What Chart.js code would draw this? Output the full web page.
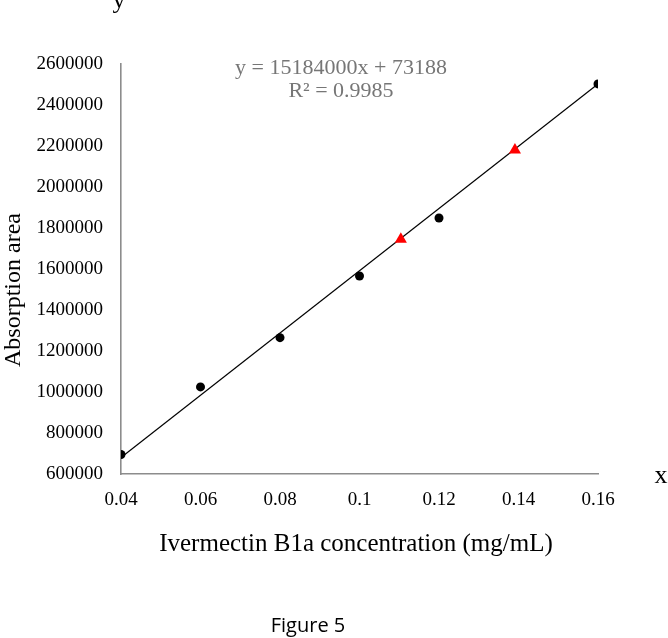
<!DOCTYPE html>
<html>
<head>
<meta charset="utf-8">
<script src="https://cdn.jsdelivr.net/npm/chart.js@4.4.1/dist/chart.umd.min.js"></script>
<style>
  html, body { margin: 0; padding: 0; background: #ffffff; }
  #wrap { width: 668px; height: 638px; }
</style>
</head>
<body>
<div id="wrap"><canvas id="c" width="668" height="638"></canvas></div>
<script>
// ---- data ----
const standardX = [0.04, 0.06, 0.08, 0.10, 0.12, 0.16];
const standardY = [695000, 1025000, 1265000, 1566000, 1849000, 2503000];
const sampleX = [0.1104, 0.1391];
const sampleY = [1745000, 2180000];
const trendX = [0.04, 0.16];
const trendY = [680548, 2502628];
const xTicks = [0.04, 0.06, 0.08, 0.1, 0.12, 0.14, 0.16];
const xTickLabels = ['0.04', '0.06', '0.08', '0.1', '0.12', '0.14', '0.16'];
const yTicks = [600000, 800000, 1000000, 1200000, 1400000, 1600000, 1800000, 2000000, 2200000, 2400000, 2600000];
const yTickLabels = ['600000', '800000', '1000000', '1200000', '1400000', '1600000', '1800000', '2000000', '2200000', '2400000', '2600000'];
const equationText = 'y = 15184000x + 73188';
const r2Text = 'R² = 0.9985';
const xTitle = 'Ivermectin B1a concentration (mg/mL)';
const yTitle = 'Absorption area';
const figureCaption = 'Figure 5';

const toPts = (xs, ys) => xs.map((x, i) => ({ x: x, y: ys[i] }));

const SERIF = '"Liberation Serif", "Times New Roman", serif';

const textPlugin = {
  id: 'extraText',
  afterDraw(chart) {
    const ctx = chart.ctx;
    ctx.save();
    ctx.fillStyle = '#000';
    ctx.textAlign = 'center';
    ctx.textBaseline = 'alphabetic';
    ctx.font = '26px ' + SERIF;
    ctx.fillText('y', 119, 8);
    ctx.fillText('x', 661, 483);

    ctx.fillStyle = '#767676';
    ctx.font = '22px ' + SERIF;
    ctx.fillText(equationText, 341, 74);
    ctx.fillText(r2Text, 341, 97);

    ctx.fillStyle = '#000';
    ctx.font = '25px ' + SERIF;
    ctx.fillText(xTitle, 356, 551);

    ctx.save();
    ctx.translate(14, 290);
    ctx.rotate(-Math.PI / 2);
    ctx.textBaseline = 'middle';
    ctx.font = '24px ' + SERIF;
    ctx.fillText(yTitle, 0, 0);
    ctx.restore();

    ctx.font = '20px "Open Sans", "Liberation Sans", sans-serif';
    ctx.fillText(figureCaption, 308, 632);
    ctx.restore();
  }
};

new Chart(document.getElementById('c'), {
  type: 'scatter',
  data: {
    datasets: [
      {
        type: 'line',
        data: toPts(trendX, trendY),
        borderColor: '#000000',
        borderWidth: 1.3,
        pointRadius: 0,
        fill: false,
        order: 3
      },
      {
        data: toPts(standardX, standardY),
        backgroundColor: '#000000',
        borderColor: '#000000',
        pointStyle: 'circle',
        pointRadius: 4.5,
        borderWidth: 0,
        order: 2
      },
      {
        data: toPts(sampleX, sampleY),
        backgroundColor: '#ff0000',
        borderColor: '#ff0000',
        pointStyle: 'triangle',
        pointRadius: 7,
        borderWidth: 0,
        order: 1
      }
    ]
  },
  options: {
    responsive: false,
    animation: false,
    devicePixelRatio: 1,
    layout: { padding: { top: 64, right: 70, left: 0, bottom: 0 } },
    plugins: { legend: { display: false }, tooltip: { enabled: false } },
    scales: {
      x: {
        type: 'linear',
        min: 0.04,
        max: 0.16,
        afterBuildTicks: (s) => { s.ticks = xTicks.map(v => ({ value: v })); },
        afterFit: (s) => { s.height = 164; },
        grid: { display: false, drawTicks: false },
        border: { display: true, color: '#8c8c8c', width: 1.6 },
        ticks: {
          color: '#000',
          font: { family: SERIF, size: 19 },
          padding: 15,
          maxRotation: 0,
          autoSkip: false,
          callback: (v) => { const i = xTicks.findIndex(t => Math.abs(t - v) < 1e-9); return i >= 0 ? xTickLabels[i] : ''; }
        }
      },
      y: {
        type: 'linear',
        min: 600000,
        max: 2600000,
        afterBuildTicks: (s) => { s.ticks = yTicks.map(v => ({ value: v })); },
        afterFit: (s) => { s.width = 121; },
        grid: { display: false, drawTicks: false },
        border: { display: true, color: '#8c8c8c', width: 1.6 },
        ticks: {
          color: '#000',
          font: { family: SERIF, size: 19 },
          padding: 18,
          autoSkip: false,
          callback: (v) => { const i = yTicks.indexOf(v); return i >= 0 ? yTickLabels[i] : ''; }
        }
      }
    }
  },
  plugins: [textPlugin]
});
</script>
</body>
</html>
